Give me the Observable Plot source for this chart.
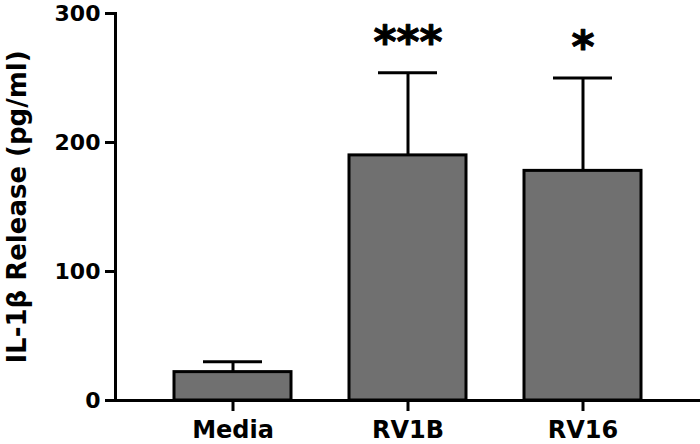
<!DOCTYPE html>
<html>
<head>
<meta charset="utf-8">
<script src="https://cdn.jsdelivr.net/npm/d3@7"></script>
<script src="https://cdn.jsdelivr.net/npm/@observablehq/plot@0.6"></script>
<style>
  html, body { margin: 0; padding: 0; background: #fff; }
  #chart svg { display: block; }
</style>
</head>
<body>
<div id="chart"></div>
<script>
const categories = ["Media", "RV1B", "RV16"];
const means = [22, 190, 178];
const sem = [8, 64, 72];
const stars = ["", "***", "*"];
const yTicks = [0, 100, 200, 300];
const yLabel = "IL-1β Release (pg/ml)";

const data = categories.map((c, i) => ({cat: c, mean: means[i], upper: means[i] + sem[i], star: stars[i]}));

const font = "'DejaVu Sans', Verdana, sans-serif";

const chart = Plot.plot({
  width: 700,
  height: 444,
  marginLeft: 115,
  marginRight: 0,
  marginTop: 13,
  marginBottom: 44,
  style: {fontFamily: font, fontWeight: "bold", color: "#000", background: "#fff"},
  x: {domain: categories, padding: 0.33, label: null},
  y: {domain: [0, 300], label: null},
  marks: [
    Plot.barY(data, {x: "cat", y: "mean", fill: "#707070", stroke: "#000", strokeWidth: 3}),
    Plot.ruleX(data, {x: "cat", y1: "mean", y2: "upper", stroke: "#000", strokeWidth: 3}),
    Plot.tickY(data, {x: "cat", y: "upper", stroke: "#000", strokeWidth: 3, insetLeft: 29, insetRight: 29}),
    Plot.text(data, {x: "cat", y: "upper", text: "star", fontSize: 44, fontWeight: "bold", dy: -30, fill: "#000", stroke: "#000", strokeWidth: 1}),
    Plot.axisY({ticks: yTicks, tickSize: 10, tickPadding: 5, tickFormat: d => String(d), fontSize: 22, fontWeight: "bold", strokeWidth: 3, label: null}),
    Plot.axisX({tickSize: 11, tickPadding: 9, fontSize: 24, fontWeight: "bold", strokeWidth: 3, label: null}),
    Plot.ruleY([0], {stroke: "#000", strokeWidth: 3}),
    Plot.frame({anchor: "left", stroke: "#000", strokeWidth: 3}),
    Plot.text([yLabel], {frameAnchor: "left", textAnchor: "middle", rotate: -90, dx: -98, fontSize: 26, fontWeight: "bold", fill: "#000"})
  ]
});
document.getElementById("chart").appendChild(chart);
</script>
</body>
</html>
